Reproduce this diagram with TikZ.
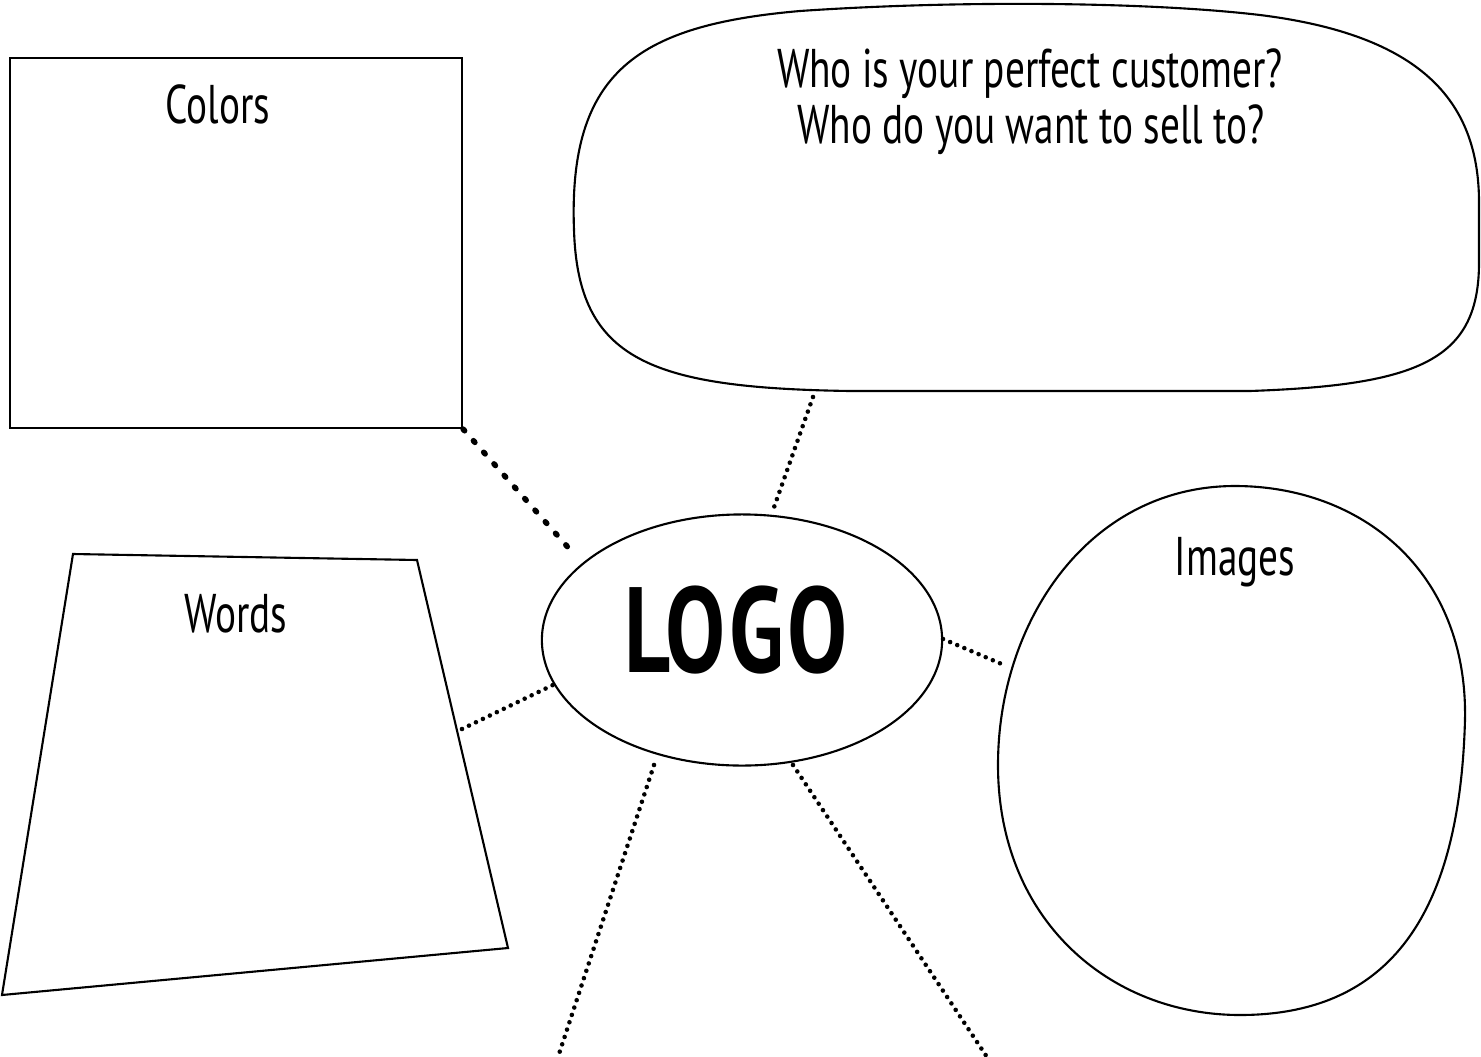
\documentclass[tikz,border=0pt]{standalone}
\usepackage{fontspec}
\setmainfont[FakeStretch=0.72]{PT Sans}
\newfontfamily\logofont[FakeStretch=0.74,LetterSpace=3]{PT Sans}
\usetikzlibrary{shapes.geometric}
\begin{document}
\begin{tikzpicture}[x=0.01cm,y=-0.01cm,line width=0.6pt,
		dots/.style={line width=1.3pt,line cap=round,dash pattern=on 0pt off 2.2pt},
		bigdots/.style={line width=1.6pt,line cap=round,dash pattern=on 0.6pt off 3.8pt},
		lbl/.style={font=\fontsize{15.5}{18}\selectfont,inner sep=0pt,anchor=base}]
	\useasboundingbox (0,0) rectangle (1481,1057);
	% boxes
	\node[draw,rectangle,minimum width=4.52cm,minimum height=3.70cm,inner sep=0pt] (colors) at (236,243) {};
	\node[draw,ellipse,minimum width=4.00cm,minimum height=2.51cm,inner sep=0pt] (logo) at (742,640) {};
	\draw (73,554)--(417,560)--(508,948)--(2,995)--cycle;
	\draw (574,230) .. controls (568,70) and (640,25) .. (800,11)
		.. controls (960,0) and (1150,2) .. (1260,15)
		.. controls (1420,35) and (1478,100) .. (1479,200) -- (1479,260)
		.. controls (1480,360) and (1420,385) .. (1250,391) -- (850,391)
		.. controls (650,388) and (578,360) .. (574,230) -- cycle;
	\draw (1235,486) .. controls (1090,486) and (998,620) .. (998,765)
		.. controls (998,920) and (1110,1015) .. (1240,1015)
		.. controls (1400,1015) and (1460,900) .. (1465,720)
		.. controls (1468,570) and (1360,486) .. (1235,486) -- cycle;
	% texts
	\node[lbl] (colorstxt) at (218,123) {Colors};
	\node[lbl] (wordstxt) at (236,632) {Words};
	\node[lbl] (imagestxt) at (1235,575) {Images};
	\node[lbl] (asktxt) at (1030,87) {Who is your perfect customer?};
	\node[lbl] (selltxt) at (1031,143) {Who do you want to sell to?};
	\node[inner sep=0pt,anchor=base,font=\logofont\fontsize{34.5}{40}\selectfont\bfseries] (logotxt) at (736,672) {LOGO};
	% dotted links
	\coordinate (c1) at (573,553);
	\coordinate (q0) at (813,397);
	\coordinate (q1) at (772,513);
	\coordinate (w0) at (462,729);
	\coordinate (w1) at (555,684);
	\coordinate (i0) at (943,639);
	\coordinate (i1) at (1004,665);
	\coordinate (b0) at (654,765);
	\coordinate (b1) at (558,1057);
	\coordinate (d0) at (793,765);
	\coordinate (d1) at (987,1057);
	\draw[bigdots] (colors.south east)--(c1);
	\draw[dots] (q0)--(q1);
	\draw[dots] (w0)--(w1);
	\draw[dots] (i0)--(i1);
	\draw[dots] (b0)--(b1);
	\draw[dots] (d0)--(d1);
\end{tikzpicture}
\end{document}
